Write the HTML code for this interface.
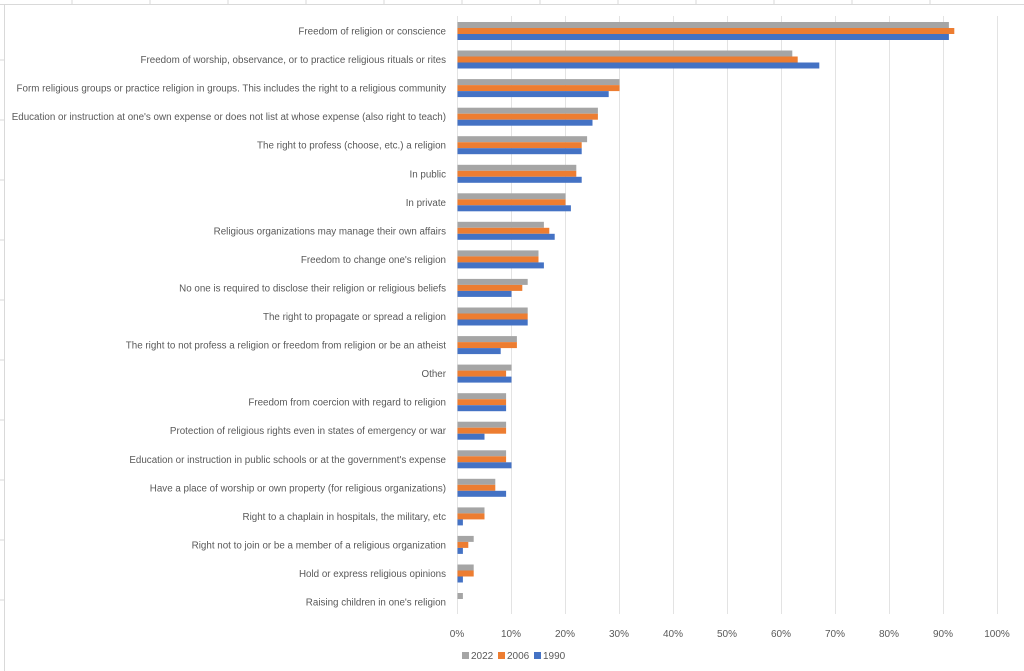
<!DOCTYPE html>
<html><head><meta charset="utf-8"><style>
html,body{margin:0;padding:0;background:#fff;}
svg{display:block;}
text{font-family:"Liberation Sans",sans-serif;fill:#595959;}
</style></head><body>
<svg width="1024" height="671" xmlns="http://www.w3.org/2000/svg">
<rect x="0" y="0" width="1024" height="671" fill="#fff"/>
<line x1="0" y1="4.5" x2="1024" y2="4.5" stroke="#d9d9d9"/>
<line x1="4.5" y1="4" x2="4.5" y2="671" stroke="#d9d9d9"/>
<g stroke="#d9d9d9" stroke-width="1">
<line x1="72" y1="0" x2="72" y2="4"/><line x1="150" y1="0" x2="150" y2="4"/><line x1="228" y1="0" x2="228" y2="4"/><line x1="306" y1="0" x2="306" y2="4"/><line x1="384" y1="0" x2="384" y2="4"/><line x1="462" y1="0" x2="462" y2="4"/><line x1="540" y1="0" x2="540" y2="4"/><line x1="618" y1="0" x2="618" y2="4"/><line x1="696" y1="0" x2="696" y2="4"/><line x1="774" y1="0" x2="774" y2="4"/><line x1="852" y1="0" x2="852" y2="4"/><line x1="930" y1="0" x2="930" y2="4"/>
<line x1="0" y1="60" x2="4" y2="60"/><line x1="0" y1="120" x2="4" y2="120"/><line x1="0" y1="180" x2="4" y2="180"/><line x1="0" y1="240" x2="4" y2="240"/><line x1="0" y1="300" x2="4" y2="300"/><line x1="0" y1="360" x2="4" y2="360"/><line x1="0" y1="420" x2="4" y2="420"/><line x1="0" y1="480" x2="4" y2="480"/><line x1="0" y1="540" x2="4" y2="540"/><line x1="0" y1="600" x2="4" y2="600"/>
</g>
<g stroke="#e3e3e3" stroke-width="1">
<line x1="457.5" y1="16" x2="457.5" y2="614"/><line x1="511.5" y1="16" x2="511.5" y2="614"/><line x1="565.5" y1="16" x2="565.5" y2="614"/><line x1="619.5" y1="16" x2="619.5" y2="614"/><line x1="673.5" y1="16" x2="673.5" y2="614"/><line x1="727.5" y1="16" x2="727.5" y2="614"/><line x1="781.5" y1="16" x2="781.5" y2="614"/><line x1="835.5" y1="16" x2="835.5" y2="614"/><line x1="889.5" y1="16" x2="889.5" y2="614"/><line x1="943.5" y1="16" x2="943.5" y2="614"/><line x1="997.5" y1="16" x2="997.5" y2="614"/>
</g>
<g id="bars"></g>
<g id="labels" font-size="9.8" text-anchor="end"></g>
<g font-size="10" text-anchor="middle">
<text x="457" y="637">0%</text><text x="511" y="637">10%</text><text x="565" y="637">20%</text><text x="619" y="637">30%</text><text x="673" y="637">40%</text><text x="727" y="637">50%</text><text x="781" y="637">60%</text><text x="835" y="637">70%</text><text x="889" y="637">80%</text><text x="943" y="637">90%</text><text x="997" y="637">100%</text>
</g>
<g font-size="10">
<rect x="462" y="652" width="7" height="7" fill="#a5a5a5"/><text x="471" y="659">2022</text>
<rect x="498" y="652" width="7" height="7" fill="#ed7d31"/><text x="507" y="659">2006</text>
<rect x="534" y="652" width="7" height="7" fill="#4472c4"/><text x="543" y="659">1990</text>
</g>
<script>
const d=[
["Freedom of religion or conscience",91,92,91],
["Freedom of worship, observance, or to practice religious rituals or rites",62,63,67],
["Form religious groups or practice religion in groups. This includes the right to a religious community",30,30,28],
["Education or instruction at one's own expense or does not list at whose expense (also right to teach)",26,26,25],
["The right to profess (choose, etc.) a religion",24,23,23],
["In public",22,22,23],
["In private",20,20,21],
["Religious organizations may manage their own affairs",16,17,18],
["Freedom to change one's religion",15,15,16],
["No one is required to disclose their religion or religious beliefs",13,12,10],
["The right to propagate or spread a religion",13,13,13],
["The right to not profess a religion or freedom from religion or be an atheist",11,11,8],
["Other",10,9,10],
["Freedom from coercion with regard to religion",9,9,9],
["Protection of religious rights even in states of emergency or war",9,9,5],
["Education or instruction in public schools or at the government's expense",9,9,10],
["Have a place of worship or own property (for religious organizations)",7,7,9],
["Right to a chaplain in hospitals, the military, etc",5,5,1],
["Right not to join or be a member of a religious organization",3,2,1],
["Hold or express religious opinions",3,3,1],
["Raising children in one's religion",1,0,0]];
const ns="http://www.w3.org/2000/svg",B=document.getElementById("bars"),L=document.getElementById("labels");
const cols=["#a5a5a5","#ed7d31","#4472c4"];
d.forEach((r,i)=>{const cy=31+i*28.55;
for(let k=0;k<3;k++){if(!r[k+1])continue;const e=document.createElementNS(ns,"rect");
e.setAttribute("x",457.5);e.setAttribute("y",(cy-9+k*6).toFixed(1));e.setAttribute("width",(r[k+1]*5.4).toFixed(1));e.setAttribute("height",6);e.setAttribute("fill",cols[k]);B.appendChild(e);}
const t=document.createElementNS(ns,"text");t.setAttribute("x",446);t.setAttribute("y",(cy+3.5).toFixed(1));t.textContent=r[0];L.appendChild(t);});
</script>
</svg>
</body></html>
